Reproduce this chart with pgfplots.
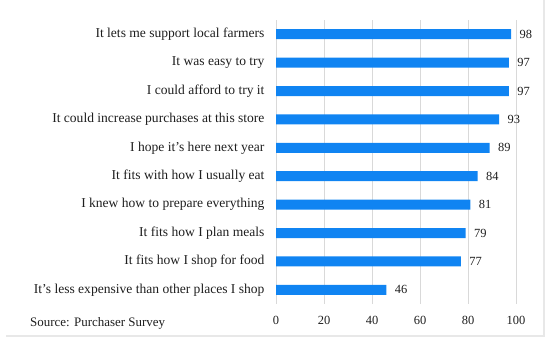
\documentclass[border=0pt]{standalone}
\usepackage{pgfplots}
\pgfplotsset{compat=1.18}
\usepackage{fontspec}
\setmainfont{Liberation Serif}
\definecolor{barblue}{RGB}{16,132,242}
\definecolor{gridgray}{RGB}{217,217,217}
\definecolor{framegray}{RGB}{232,232,232}
\definecolor{txt}{RGB}{30,30,30}
\begin{document}
\begin{tikzpicture}
\path[use as bounding box] (0,0) rectangle (550bp,344bp);
\draw[framegray, line width=1.2bp] (6bp,8bp) -- (544bp,8bp) -- (544bp,344bp);
\begin{axis}[
  at={(276bp,40bp)}, anchor=south west,
  width=240bp, height=284bp, scale only axis,
  xbar, bar width=10bp,
  xmin=0, xmax=100, ymin=-0.5, ymax=9.5,
  y dir=reverse,
  ytick={0,...,9},
  yticklabels={It lets me support local farmers, It was easy to try, I could afford to try it, It could increase purchases at this store, I hope it’s here next year, It fits with how I usually eat, I knew how to prepare everything, It fits how I plan meals, It fits how I shop for food, It’s less expensive than other places I shop},
  xtick={0,20,...,100},
  xmajorgrids, major grid style={gridgray, line width=0.8bp},
  axis line style={draw=none},
  major tick length=0pt,
  tick label style={font=\fontsize{12.5}{14}\selectfont, text=txt},
  yticklabel style={font=\fontsize{13.6}{15}\selectfont, xshift=-8bp},
  /pgf/number format/assume math mode=true,
  xticklabel style={yshift=-9bp},
  nodes near coords,
  nodes near coords style={font=\fontsize{12.5}{14}\selectfont, text=txt},
  every node near coord/.append style={xshift=5bp},
  clip=false,
]
\addplot[fill=barblue, draw=none] coordinates {(98,0) (97,1) (97,2) (93,3) (89,4) (84,5) (81,6) (79,7) (77,8) (46,9)};
\end{axis}
\node[anchor=west, font=\fontsize{13}{15}\selectfont, text=txt, inner sep=0pt] at (30bp,21bp) {Source: Purchaser Survey};
\end{tikzpicture}
\end{document}
